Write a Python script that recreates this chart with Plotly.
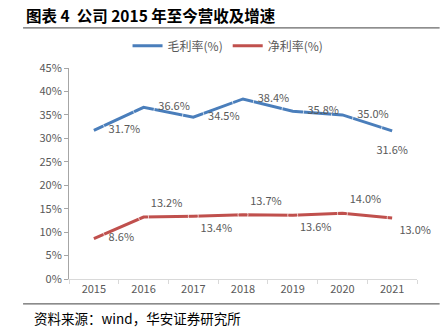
import plotly.graph_objects as go

years = ["2015", "2016", "2017", "2018", "2019", "2020", "2021"]
gross_margin = [31.7, 36.6, 34.5, 38.4, 35.8, 35.0, 31.6]
net_margin = [8.6, 13.2, 13.4, 13.7, 13.6, 14.0, 13.0]
gross_pos = ["middle right", "middle right", "middle right", "middle right", "middle right", "middle right", "bottom center"]
net_pos = ["middle right", "top right", "bottom right", "top right", "bottom right", "top right", "bottom right"]

FONT = "Noto Sans CJK SC"
BLUE = "#4a7ebb"
RED = "#c0504d"
GRAY = "#595959"


def offset_size(p):
    return 10 if p in ("top right", "bottom right") else 22


fig = go.Figure()
for name, vals, pos, col in [("毛利率(%)", gross_margin, gross_pos, BLUE),
                             ("净利率(%)", net_margin, net_pos, RED)]:
    fig.add_trace(go.Scatter(
        x=years, y=vals, name=name, mode="lines",
        line=dict(color=col, width=3),
    ))
    fig.add_trace(go.Scatter(
        x=years, y=vals, mode="text+markers", showlegend=False, hoverinfo="skip",
        marker=dict(size=[offset_size(p) for p in pos], color="rgba(0,0,0,0)"),
        text=[f"{v:.1f}%" for v in vals], textposition=pos, cliponaxis=False,
        textfont=dict(family=FONT, size=11, color=GRAY),
    ))

fig.update_layout(
    width=442, height=331,
    margin=dict(l=69, r=25, t=68, b=52),
    paper_bgcolor="white", plot_bgcolor="white",
    font=dict(family=FONT, size=11, color=GRAY),
    showlegend=True,
    legend=dict(orientation="h", x=0.457, xanchor="center", y=1.105, yanchor="middle",
                font=dict(size=12, color=GRAY), itemwidth=30),
    xaxis=dict(type="category", range=[-0.5, 6.5], showgrid=False,
               showline=True, linecolor="#d9d9d9", linewidth=1,
               ticks="outside", tickson="boundaries", ticklen=4, tickcolor="#d9d9d9",
               tickfont=dict(size=11, color=GRAY)),
    yaxis=dict(range=[0, 45], dtick=5, ticksuffix="%", showgrid=False, zeroline=False,
               showline=True, linecolor="#a6a6a6", linewidth=1,
               ticks="outside", ticklen=4, tickcolor="#a6a6a6",
               tickfont=dict(size=11, color=GRAY)),
    annotations=[
        dict(text="<b>图表 4  公司 2015 年至今营收及增速</b>", xref="paper", yref="paper",
             x=-0.128, y=1.25, xanchor="left", yanchor="middle", showarrow=False,
             font=dict(family=FONT, size=15.5, color="#000000")),
        dict(text="资料来源：wind，华安证券研究所", xref="paper", yref="paper",
             x=-0.105, y=-0.185, xanchor="left", yanchor="middle", showarrow=False,
             font=dict(family=FONT, size=13.5, color="#000000")),
    ],
    shapes=[
        dict(type="line", xref="paper", yref="paper", x0=-0.132, x1=1.065, y0=1.19, y1=1.19,
             line=dict(color="#404040", width=1)),
        dict(type="line", xref="paper", yref="paper", x0=-0.132, x1=1.065, y0=-0.118, y1=-0.118,
             line=dict(color="#404040", width=1)),
    ],
)

fig.write_html("out.html")
